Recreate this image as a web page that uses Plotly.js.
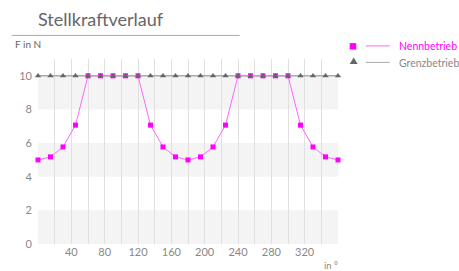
<!DOCTYPE html>
<html>
<head>
<meta charset="utf-8">
<script src="https://cdn.plot.ly/plotly-3.0.1.min.js"></script>
<style>html,body{margin:0;padding:0;background:#fff;}#chart{width:459px;height:271px;}</style>
</head>
<body>
<div id="chart"></div>
<script>
// Data
const angles = [0,15,30,45,60,75,90,105,120,135,150,165,180,195,210,225,240,255,270,285,300,315,330,345,360];
const nennbetrieb = [5,5.18,5.77,7.07,10,10,10,10,10,7.07,5.77,5.18,5,5.18,5.77,7.07,10,10,10,10,10,7.07,5.77,5.18,5];
const grenzbetrieb = [10,10,10,10,10,10,10,10,10,10,10,10,10,10,10,10,10,10,10,10,10,10,10,10,10];
const xGridVals = [0,20,40,60,80,100,120,140,160,180,200,220,240,260,280,300,320,340,360];
const xLabeled = [40,80,120,160,200,240,280,320];
const yTicks = [0,2,4,6,8,10];
const bands = [[0,2],[4,6],[8,10]];
const seriesNames = ['Nennbetrieb','Grenzbetrieb'];

const FONT = 'Lato, "Open Sans", sans-serif';
const W = 459, H = 271;
const L = 38.3, R = 338.3, T = 58.9, B = 244;
const px = x => (x - L) / (R - L);
const py = y => (B - y) / (B - T);

const traces = [
  {x: angles, y: nennbetrieb, name: seriesNames[0], mode: 'lines+markers', type: 'scatter',
   line: {color: '#ff66ff', width: 1}, marker: {symbol: 'square', size: 5, color: '#ff00ff'}, cliponaxis: false},
  {x: angles, y: grenzbetrieb, name: seriesNames[1], mode: 'lines+markers', type: 'scatter',
   line: {color: '#aaaaaa', width: 1.5}, marker: {symbol: 'triangle-up', size: 5.5, color: '#666666'}, cliponaxis: false}
];

const shapes = bands.map(b => ({type: 'rect', xref: 'x', yref: 'y', x0: 0, x1: 360, y0: b[0], y1: b[1],
  fillcolor: '#f4f4f4', line: {width: 0}, layer: 'below'}));
// title underline
shapes.push({type: 'line', xref: 'paper', yref: 'paper', x0: px(12), x1: px(240), y0: py(35.3), y1: py(35.3), line: {color: '#aaaaaa', width: 1}});
// legend graphics
shapes.push({type: 'rect', xref: 'paper', yref: 'paper', x0: px(350), x1: px(356.5), y0: py(49.5), y1: py(43), fillcolor: '#ff00ff', line: {width: 0}});
shapes.push({type: 'line', xref: 'paper', yref: 'paper', x0: px(366), x1: px(390), y0: py(45.8), y1: py(45.8), line: {color: '#ff66ff', width: 1}});
shapes.push({type: 'path', xref: 'paper', yref: 'paper',
  path: `M ${px(350)} ${py(64)} L ${px(358)} ${py(64)} L ${px(354)} ${py(57.5)} Z`, fillcolor: '#666666', line: {width: 0}});
shapes.push({type: 'line', xref: 'paper', yref: 'paper', x0: px(366), x1: px(390), y0: py(62.3), y1: py(62.3), line: {color: '#aaaaaa', width: 1}});

const annotations = [
  {text: 'F in N', xref: 'paper', yref: 'paper', x: px(13), y: py(44), xanchor: 'left', yanchor: 'middle', showarrow: false, font: {family: FONT, size: 10, color: '#666666'}},
  {text: 'in °', xref: 'paper', yref: 'paper', x: px(340), y: py(266), xanchor: 'right', yanchor: 'middle', showarrow: false, font: {family: FONT, size: 9.5, color: '#888888'}},
  {text: seriesNames[0], xref: 'paper', yref: 'paper', x: px(397), y: py(46), xanchor: 'left', yanchor: 'middle', showarrow: false, font: {family: FONT, size: 10.5, color: '#ff00ff'}},
  {text: seriesNames[1], xref: 'paper', yref: 'paper', x: px(397), y: py(62.5), xanchor: 'left', yanchor: 'middle', showarrow: false, font: {family: FONT, size: 10.5, color: '#888888'}}
];

const layout = {
  width: W, height: H,
  margin: {l: L, r: W - R, t: T, b: H - B, pad: 0},
  paper_bgcolor: '#ffffff', plot_bgcolor: '#ffffff',
  showlegend: false,
  title: {text: 'Stellkraftverlauf', x: 38 / W, xanchor: 'left', xref: 'container', y: 1 - 20 / H, yanchor: 'middle', yref: 'container',
    font: {family: FONT, size: 18, color: '#666666'}},
  xaxis: {range: [0, 360], tickvals: xGridVals, ticktext: xGridVals.map(v => xLabeled.includes(v) ? String(v) : ''),
    showgrid: true, gridcolor: '#e0e0e0', gridwidth: 1, zeroline: false, showline: false, ticks: '',
    tickfont: {family: FONT, size: 11, color: '#888888'}, fixedrange: true},
  yaxis: {range: [0, 11], tickvals: yTicks, showgrid: false, zeroline: false, showline: false, ticks: '',
    ticklabelstandoff: 5, tickfont: {family: FONT, size: 11, color: '#888888'}, fixedrange: true},
  shapes: shapes,
  annotations: annotations
};

Plotly.newPlot('chart', traces, layout, {staticPlot: true, displayModeBar: false});
</script>
</body>
</html>
